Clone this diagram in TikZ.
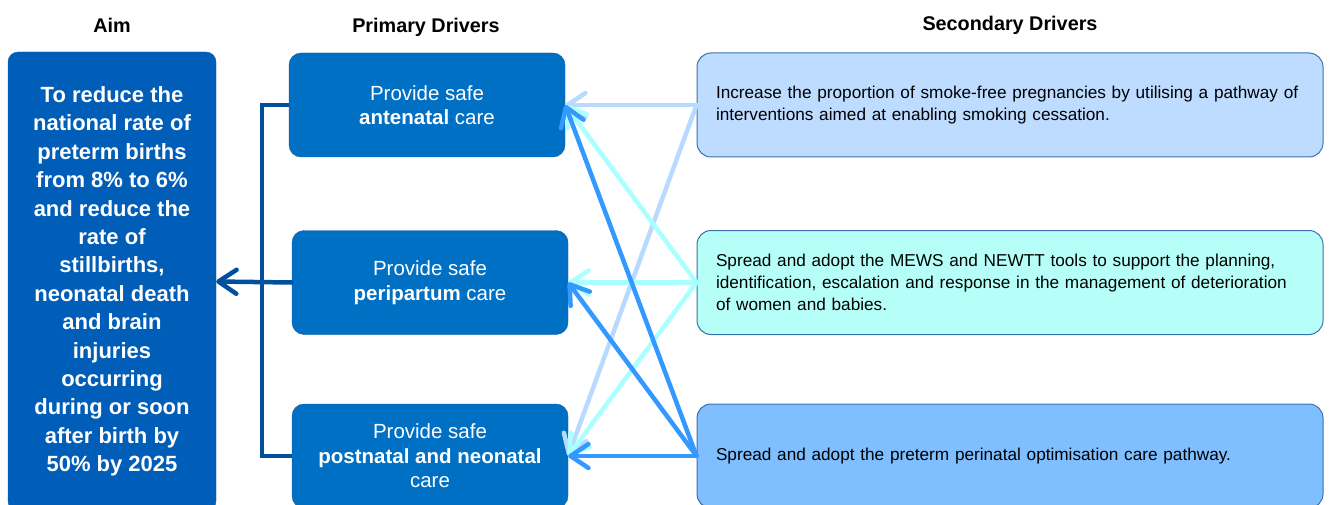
\documentclass[tikz,border=0pt]{standalone}
\usepackage{fontspec}
\setmainfont{Liberation Sans}
\usetikzlibrary{arrows.meta,positioning}
\definecolor{aimblue}{RGB}{0,94,184}
\definecolor{primblue}{RGB}{0,112,196}
\definecolor{primline}{RGB}{16,90,170}
\definecolor{busblue}{RGB}{0,80,158}
\definecolor{secline}{RGB}{60,112,172}
\definecolor{secA}{RGB}{189,220,255}
\definecolor{secB}{RGB}{181,255,248}
\definecolor{secC}{RGB}{127,190,255}
\definecolor{linkA}{RGB}{184,218,255}
\definecolor{linkB}{RGB}{170,255,255}
\definecolor{linkC}{RGB}{51,153,255}

\begin{document}
\begin{tikzpicture}[
    x=1pt, y=-1pt,
    >={Straight Barb[length=18pt,width=24pt,line cap=round,line join=round]},
    header/.style={font=\fontsize{19.8}{22}\selectfont\bfseries},
    aimnode/.style={rectangle, draw=aimblue, rounded corners=10pt, fill=aimblue, text=white,
        minimum width=208pt, minimum height=459pt, align=center,
        font=\fontsize{22}{28.4}\selectfont\bfseries},
    primary/.style={rectangle, draw=primline, rounded corners=12pt, fill=primblue, text=white,
        minimum width=276pt, minimum height=104pt, align=center,
        font=\fontsize{20.5}{24.5}\selectfont},
    secondary/.style={rectangle, draw=secline, line width=1pt, rounded corners=14pt,
        minimum width=626pt, minimum height=104pt, text width=588pt, inner xsep=19pt,
        align=left, font=\fontsize{17.2}{22}\selectfont},
    link/.style={->, line width=4.5pt, line cap=round}
]
\useasboundingbox (0,0) rectangle (1329,505);

\node[aimnode] (Aim) at (112, 281.5) {To reduce the\\ national rate of\\ preterm births\\ from 8\% to 6\%\\
and reduce the\\ rate of\\ stillbirths,\\ neonatal death\\ and brain\\ injuries\\ occurring\\
during or soon\\ after birth by\\ 50\% by 2025};

\node[primary] (P-1) at (427, 105) {Provide safe\\ \textbf{antenatal} care};
\node[primary] (P-2) at (430, 282.5) {Provide safe\\ \textbf{peripartum} care};
\node[primary] (P-3) at (430, 456) {Provide safe\\ \textbf{postnatal and neonatal}\\ care};

\node[secondary, fill=secA] (S-1) at (1010, 105) {Increase the proportion of smoke-free pregnancies by utilising a pathway of\\
interventions aimed at enabling smoking cessation.};
\node[secondary, fill=secB] (S-2) at (1010, 282.5) {Spread and adopt the MEWS and NEWTT tools to support the planning,\\
identification, escalation and response in the management of deterioration\\ of women and babies.};
\node[secondary, fill=secC] (S-3) at (1010, 456) {Spread and adopt the preterm perinatal optimisation care pathway.};

% Connections
\foreach \j in {1,3}
    \draw[link, linkA] (S-1.west) -- (P-\j.east);
\foreach \j in {1,...,3}
    \draw[link, linkB] (S-2.west) -- (P-\j.east);
\foreach \j in {1,...,3}
    \draw[link, linkC] (S-3.west) -- (P-\j.east);

\coordinate (bus) at (262, 282.5);
\draw[busblue, line width=4.5pt] (P-1.west) -| (bus) |- (P-3.west);
\draw[link, busblue] (P-2.west) -- (Aim.east);

% Labels
\node[header] (AimTitle) at (112, 25) {Aim};
\node[header] (PrimTitle) at (426, 27) {Primary Drivers};
\node[header] (SecTitle) at (1010, 25) {Secondary Drivers};

\end{tikzpicture}
\end{document}
